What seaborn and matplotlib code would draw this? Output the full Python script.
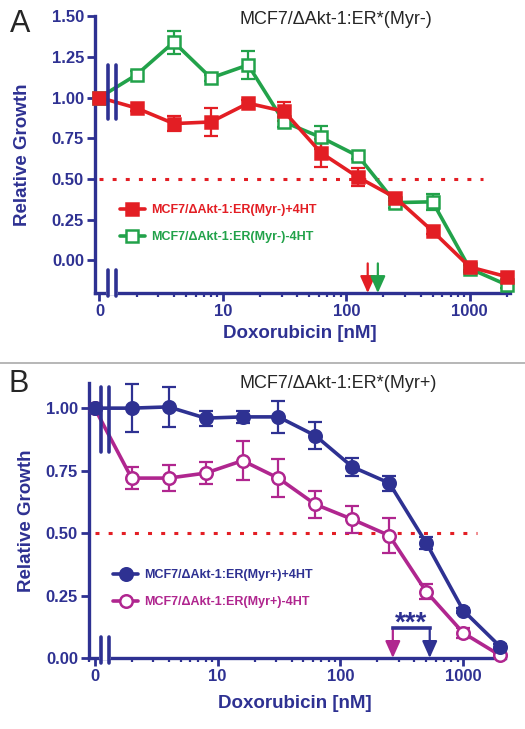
import numpy as np
import pandas as pd
import seaborn as sns
import matplotlib.pyplot as plt
from matplotlib.ticker import FixedLocator, FixedFormatter, LogLocator, NullFormatter, FormatStrFormatter

# doxorubicin doses (nM); 0 is drawn at 1 on the log axis
dox = np.array([0, 2, 4, 8, 16, 31.25, 62.5, 125, 250, 500, 1000, 2000])

# panel A: Myr-
a_plus = [1.00, 0.935, 0.84, 0.85, 0.965, 0.915, 0.66, 0.51, 0.385, 0.18, -0.04, -0.10]
a_plus_err = [0, 0.015, 0.045, 0.085, 0.02, 0.06, 0.085, 0.055, 0.02, 0.02, 0.02, 0.02]
a_minus = [1.00, 1.14, 1.34, 1.12, 1.20, 0.85, 0.755, 0.64, 0.355, 0.36, -0.05, -0.15]
a_minus_err = [0, 0.02, 0.07, 0.02, 0.085, 0.03, 0.07, 0.02, 0.03, 0.05, 0.02, 0.02]

# panel B: Myr+
b_plus = [1.00, 1.00, 1.005, 0.96, 0.965, 0.965, 0.89, 0.765, 0.70, 0.46, 0.19, 0.045]
b_plus_err = [0, 0.095, 0.08, 0.03, 0.025, 0.065, 0.055, 0.035, 0.03, 0.025, 0.01, 0.01]
b_minus = [1.00, 0.72, 0.72, 0.74, 0.79, 0.72, 0.615, 0.555, 0.49, 0.265, 0.10, 0.01]
b_minus_err = [0, 0.043, 0.053, 0.045, 0.078, 0.076, 0.055, 0.055, 0.07, 0.03, 0.02, 0.01]

# IC50 arrows
ic50_a = {"red": 149, "green": 180}
ic50_b = {"magenta": 267, "navy": 533}

navy = "#2e3192"
red = "#e31e24"
green = "#22a24a"
magenta = "#b0268f"

sns.set_theme(style="ticks")
plt.rcParams["font.family"] = ["Liberation Sans", "DejaVu Sans"]

xpos = np.where(dox == 0, 1, dox)

fig = plt.figure(figsize=(5.25, 7.29), dpi=100)
axA = fig.add_axes([0.181, 0.598, 0.790, 0.380])
axB = fig.add_axes([0.1695, 0.0974, 0.792, 0.377])


def draw_series(ax, y, err, color, marker, filled, label):
    df = pd.DataFrame({"dose": xpos, "growth": y})
    ax.errorbar(xpos, y, yerr=err, fmt="none", ecolor=color, elinewidth=1.6,
                capsize=5, capthick=1.6, clip_on=False, zorder=2)
    sns.lineplot(data=df, x="dose", y="growth", ax=ax, color=color, lw=2.6,
                 marker=marker, markersize=9, markeredgewidth=1.8,
                 markeredgecolor=color,
                 markerfacecolor=color if filled else "white",
                 errorbar=None, sort=False, label=label, clip_on=False, zorder=3)


def style_axis(ax, xlim, ylim, yticks):
    ax.set_xscale("log")
    ax.set_xlim(*xlim)
    ax.set_ylim(*ylim)
    ax.xaxis.set_major_locator(FixedLocator([1, 10, 100, 1000]))
    ax.xaxis.set_major_formatter(FixedFormatter(["0", "10", "100", "1000"]))
    ax.xaxis.set_minor_locator(LogLocator(base=10, subs=np.arange(2, 10), numticks=20))
    ax.xaxis.set_minor_formatter(NullFormatter())
    ax.set_yticks(yticks)
    ax.yaxis.set_major_formatter(FormatStrFormatter("%.2f"))
    for s in ["top", "right"]:
        ax.spines[s].set_visible(False)
    for s in ["left", "bottom"]:
        ax.spines[s].set_color(navy)
        ax.spines[s].set_linewidth(2.4)
    ax.tick_params(axis="both", which="major", colors=navy, width=2, length=6,
                   labelsize=12, pad=2)
    ax.tick_params(axis="x", which="minor", colors=navy, width=1.6, length=3)
    for t in ax.get_xticklabels() + ax.get_yticklabels():
        t.set_fontweight("bold")
    ax.set_xlabel("Doxorubicin [nM]", color=navy, fontsize=13.5, fontweight="bold")
    ax.set_ylabel("Relative Growth", color=navy, fontsize=13.5, fontweight="bold")


def axis_break(ax, xs, ybot, ytop):
    ax.plot(xs, [ax.get_ylim()[0]] * 2, color="white", lw=3, clip_on=False, zorder=6)
    for x in xs:
        ax.plot([x, x], ybot, color=navy, lw=2.6, clip_on=False, zorder=7)
        ax.plot([x, x], ytop, color=navy, lw=2.6, clip_on=False, zorder=7)


def arrow(ax, x, y0, y1, color):
    ax.annotate("", xy=(x, y1), xytext=(x, y0),
                arrowprops=dict(arrowstyle="-|>,head_length=0.85,head_width=0.38",
                                color=color, lw=1.6, shrinkA=0, shrinkB=0),
                annotation_clip=False)


def add_legend(ax, anchor):
    h, l = ax.get_legend_handles_labels()
    ax.legend(h[::-1], l[::-1], loc="upper left", bbox_to_anchor=anchor,
              frameon=False, borderpad=0, borderaxespad=0, handlelength=2.0,
              handletextpad=0.5, labelspacing=1.2, labelcolor="linecolor",
              prop={"weight": "bold", "size": 9})


# ---- panel A
draw_series(axA, a_minus, a_minus_err, green, "s", False, "MCF7/\u0394Akt-1:ER(Myr-)-4HT")
draw_series(axA, a_plus, a_plus_err, red, "s", True, "MCF7/\u0394Akt-1:ER(Myr-)+4HT")
style_axis(axA, (0.92, 2110), (-0.2, 1.5), [0, 0.25, 0.5, 0.75, 1.0, 1.25, 1.5])
axA.hlines(0.5, 1, 1280, colors=red, lw=2.2, linestyles=(0, (1.3, 3)), zorder=1)
axis_break(axA, [1.18, 1.36], [-0.06, -0.215], [1.20, 0.866])
arrow(axA, ic50_a["red"], -0.018, -0.2, red)
arrow(axA, ic50_a["green"], -0.018, -0.2, green)
axA.xaxis.set_label_coords(0.494, -0.114)
axA.yaxis.set_label_coords(-0.155, 0.5)
add_legend(axA, (0.06, 0.321))

# ---- panel B
draw_series(axB, b_minus, b_minus_err, magenta, "o", False, "MCF7/\u0394Akt-1:ER(Myr+)-4HT")
draw_series(axB, b_plus, b_plus_err, navy, "o", True, "MCF7/\u0394Akt-1:ER(Myr+)+4HT")
style_axis(axB, (0.90, 2175), (0, 1.10), [0, 0.25, 0.5, 0.75, 1.0])
axB.hlines(0.5, 1, 1290, colors=red, lw=2.2, linestyles=(0, (1.3, 3)), zorder=1)
axis_break(axB, [1.13, 1.32], [0.084, -0.022], [1.084, 0.824])
axB.plot([ic50_b["magenta"], ic50_b["navy"]], [0.12, 0.12], color=navy, lw=2.6,
         solid_capstyle="projecting", zorder=4)
arrow(axB, ic50_b["magenta"], 0.12, 0.0, magenta)
arrow(axB, ic50_b["navy"], 0.12, 0.0, navy)
axB.text(np.sqrt(ic50_b["magenta"] * ic50_b["navy"]), 0.108, "***", color=navy,
         fontsize=20, fontweight="bold", ha="center", va="baseline")
axB.xaxis.set_label_coords(0.495, -0.133)
axB.yaxis.set_label_coords(-0.131, 0.5)
add_legend(axB, (0.058, 0.324))

# titles, panel letters, separator
fig.text(0.64, 1 - 19 / 729, "MCF7/\u0394Akt-1:ER*(Myr-)", fontsize=13, ha="center", va="center")
fig.text(0.645, 1 - 383 / 729, "MCF7/\u0394Akt-1:ER*(Myr+)", fontsize=13, ha="center", va="center")
fig.text(20 / 525, 1 - 24 / 729, "A", fontsize=22, ha="center", va="center")
fig.text(19 / 525, 1 - 384 / 729, "B", fontsize=22, ha="center", va="center")
fig.add_artist(plt.Line2D([0, 1], [1 - 363 / 729] * 2, color="#aaaaaa", lw=1.2))

plt.savefig("out.png", dpi=100)
plt.close()
